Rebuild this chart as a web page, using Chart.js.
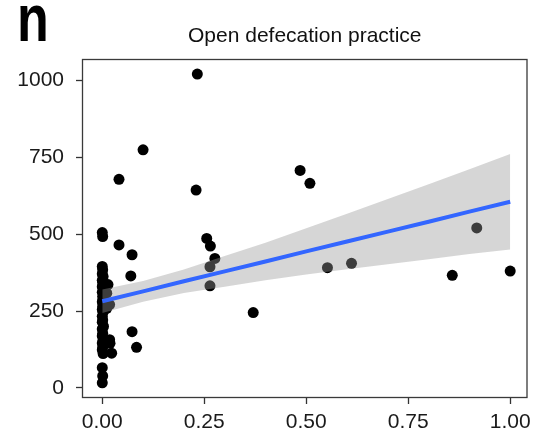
<!DOCTYPE html>
<html>
<head>
<meta charset="utf-8">
<script src="https://cdn.jsdelivr.net/npm/chart.js@4.4.1/dist/chart.umd.min.js"></script>
<style>
  html, body { margin: 0; padding: 0; background: #fff; }
  #wrap { position: relative; width: 533px; height: 436px; }
</style>
</head>
<body>
<div id="wrap"><canvas id="myChart" width="533" height="436"></canvas></div>
<script>
// tick labels
const xTicks = [0, 0.25, 0.5, 0.75, 1];
const yTicks = [0, 250, 500, 750, 1000];

// scattered points
const pointX = [
  0.233, 0.100, 0.041, 0.230, 0.485, 0.509, 0.000, 0.001, 0.041, 0.256,
  0.265, 0.276, 0.264, 0.264, 0.370, 0.552, 0.611, 0.858, 0.918, 1.000,
  0.073, 0.070, 0.073, 0.084, 0.019, 0.023, 0.014, 0.018, 0.018, 0.011,
  0.011,
  0.000, 0.001, 0.000, 0.002, 0.000, 0.001, 0.000, 0.003, 0.000, 0.001,
  0.002, 0.000, 0.001, 0.000, 0.002, 0.000, 0.001, 0.000, 0.003, 0.000,
  0.001, 0.000, 0.002, 0.000, 0.001, 0.000, 0.002, 0.000, 0.001, 0.000
];
const pointY = [
  1020, 774, 678, 643, 707, 665, 505, 492, 465, 486,
  461, 421, 394, 332, 245, 391, 405, 366, 520, 380,
  433, 364, 183, 132, 145, 113, 336, 271, 157, 308,
  259,
  395, 384, 371, 362, 350, 343, 329, 318, 311, 297,
  288, 280, 266, 255, 246, 233, 221, 214, 200, 192,
  178, 169, 155, 146, 133, 124, 112, 66, 39, 17
];

// linear fit and its confidence band
const fitX = [0, 0.1, 0.2, 0.3, 0.4, 0.5, 0.6, 0.7, 0.8, 0.9, 1.0];
const fitY = [282, 314, 347, 379, 411, 444, 476, 508, 540, 573, 605];
const bandHigh = [320, 348, 385, 429, 472, 519, 566, 614, 662, 711, 760];
const bandLow = [244, 280, 309, 329, 350, 369, 386, 402, 418, 435, 450];

const FONT = '"Liberation Sans", Arial, Helvetica, sans-serif';

const toXY = (xs, ys) => xs.map((x, i) => ({ x: x, y: ys[i] }));

// panel frame and the "n" panel letter
const framePlugin = {
  id: "frame",
  afterDraw(chart) {
    const { ctx, chartArea: a } = chart;
    ctx.save();
    ctx.strokeStyle = "#3a3a3a";
    ctx.lineWidth = 1.3;
    ctx.strokeRect(a.left + 0.5, a.top + 0.5, a.right - a.left - 1, a.bottom - a.top - 1);
    ctx.restore();

    ctx.save();
    ctx.fillStyle = "#000";
    ctx.font = "bold 52px " + FONT;
    ctx.textBaseline = "alphabetic";
    ctx.translate(17, 41);
    ctx.scale(1, 1.3);
    ctx.fillText("n", 0, 0);
    ctx.restore();
  },
};

const ctx = document.getElementById("myChart");
new Chart(ctx, {
  type: "scatter",
  data: {
    datasets: [
      {
        label: "fit",
        data: toXY(fitX, fitY),
        showLine: true,
        borderColor: "#3366FF",
        borderWidth: 4,
        pointRadius: 0,
        order: 0,
      },
      {
        label: "upper",
        data: toXY(fitX, bandHigh),
        showLine: true,
        borderColor: "rgba(0,0,0,0)",
        borderWidth: 0,
        pointRadius: 0,
        fill: "+1",
        backgroundColor: "rgba(153,153,153,0.4)",
        order: 1,
      },
      {
        label: "lower",
        data: toXY(fitX, bandLow),
        showLine: true,
        borderColor: "rgba(0,0,0,0)",
        borderWidth: 0,
        pointRadius: 0,
        fill: false,
        order: 2,
      },
      {
        label: "points",
        data: toXY(pointX, pointY),
        backgroundColor: "#000",
        borderWidth: 0,
        pointRadius: 5.5,
        order: 3,
      },
    ],
  },
  options: {
    responsive: false,
    animation: false,
    devicePixelRatio: 1,
    layout: { padding: { top: 0, right: 5, left: 0, bottom: 0 } },
    plugins: {
      legend: { display: false },
      tooltip: { enabled: false },
      title: {
        display: true,
        fullSize: false,
        text: "Open defecation practice",
        color: "#111",
        font: { family: FONT, size: 21, weight: "normal", lineHeight: 1.2 },
        padding: { top: 23.4, bottom: 10.4 },
      },
    },
    scales: {
      x: {
        type: "linear",
        min: -0.0497,
        max: 1.0424,
        afterBuildTicks: (s) => {
          s.ticks = xTicks.map((v) => ({ value: v }));
        },
        afterFit: (s) => {
          s.height = 38;
          s.paddingLeft = 0;
          s.paddingRight = 0;
        },
        ticks: {
          callback: (v) => Number(v).toFixed(2),
          color: "#1a1a1a",
          font: { family: FONT, size: 21 },
          padding: 6,
          maxRotation: 0,
        },
        grid: {
          drawOnChartArea: false,
          drawTicks: true,
          tickLength: 6,
          tickColor: "#333",
          tickWidth: 1.3,
        },
        border: { display: false },
      },
      y: {
        type: "linear",
        min: -32.5,
        max: 1069,
        afterBuildTicks: (s) => {
          s.ticks = yTicks.map((v) => ({ value: v }));
        },
        afterFit: (s) => {
          s.width = 82;
          s.paddingTop = 0;
          s.paddingBottom = 0;
        },
        ticks: {
          callback: (v) => String(v),
          color: "#1a1a1a",
          font: { family: FONT, size: 21 },
          padding: 12,
        },
        grid: {
          drawOnChartArea: false,
          drawTicks: true,
          tickLength: 6,
          tickColor: "#333",
          tickWidth: 1.3,
        },
        border: { display: false },
      },
    },
  },
  plugins: [framePlugin],
});
</script>
</body>
</html>
